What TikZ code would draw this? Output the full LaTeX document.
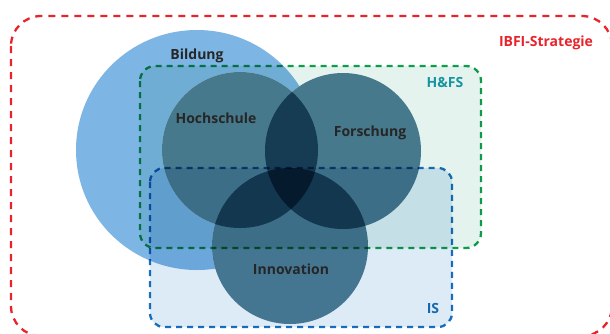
\documentclass[tikz,border=0pt]{standalone}
\usepackage{fontspec}
\setmainfont{Open Sans}
\definecolor{bildungblue}{RGB}{125,182,228}
\definecolor{ringteal}{RGB}{79,127,150}
\definecolor{hfsfill}{RGB}{228,243,238}
\definecolor{hfsline}{RGB}{16,160,80}
\definecolor{hfstext}{RGB}{24,147,162}
\definecolor{isfill}{RGB}{221,235,247}
\definecolor{isline}{RGB}{26,115,192}
\definecolor{istext}{RGB}{20,104,174}
\definecolor{ibfired}{RGB}{232,35,43}
\definecolor{labeldark}{RGB}{38,38,38}
\tikzset{
  dashframe/.style={line width=2.3pt, dash pattern=on 6pt off 5pt},
  ringlabel/.style={anchor=base, font=\bfseries\fontsize{14}{16}\selectfont, text=labeldark, inner sep=0pt},
  framelabel/.style={anchor=base, font=\bfseries\fontsize{14}{16}\selectfont, inner sep=0pt},
}
\begin{document}
\begin{tikzpicture}[x=1pt,y=-1pt]
  \useasboundingbox (0,0) rectangle (610,333);
  \clip (0,0) rectangle (610,333);
  \fill[white] (0,0) rectangle (610,333);

  % outer strategy frame
  \draw[ibfired, dashframe, dash pattern=on 7pt off 6pt, rounded corners=30pt]
    (11,16) rectangle (612,336);

  % Bildung area
  \fill[bildungblue] (197,150) ellipse [x radius=121pt, y radius=120pt];

  % three rings, knocked out to white then multiplied so overlaps darken
  \fill[white] (240,150) circle[radius=78pt];
  \fill[white] (343,151) circle[radius=78pt];
  \fill[white] (290,246) circle[radius=78pt];
  \begin{scope}[blend mode=multiply]
    \fill[ringteal] (240,150) circle[radius=78pt];
    \fill[ringteal] (343,151) circle[radius=78pt];
    \fill[ringteal] (290,246) circle[radius=78pt];

    % H&FS and IS frames
    \path[fill=hfsfill, rounded corners=15pt] (140,66) rectangle (481,248);
    \path[fill=isfill, rounded corners=14pt] (150,168) rectangle (452,327);
    \draw[hfsline, dashframe, rounded corners=15pt] (140,66) rectangle (481,248);
    \draw[isline, dashframe, rounded corners=14pt] (150,168) rectangle (452,327);
  \end{scope}

  % labels
  \node[ringlabel] (bildung) at (197,59) {Bildung};
  \node[ringlabel] (hochschule) at (216,123) {Hochschule};
  \node[ringlabel] (forschung) at (370,136) {Forschung};
  \node[ringlabel] (innovation) at (291,274) {Innovation};
  \node[framelabel, text=hfstext] (hfs) at (445,87) {H\&FS};
  \node[framelabel, text=istext] (is) at (433,313) {IS};
  \node[framelabel, text=ibfired] (ibfi) at (546,46) {IBFI-Strategie};
\end{tikzpicture}
\end{document}
